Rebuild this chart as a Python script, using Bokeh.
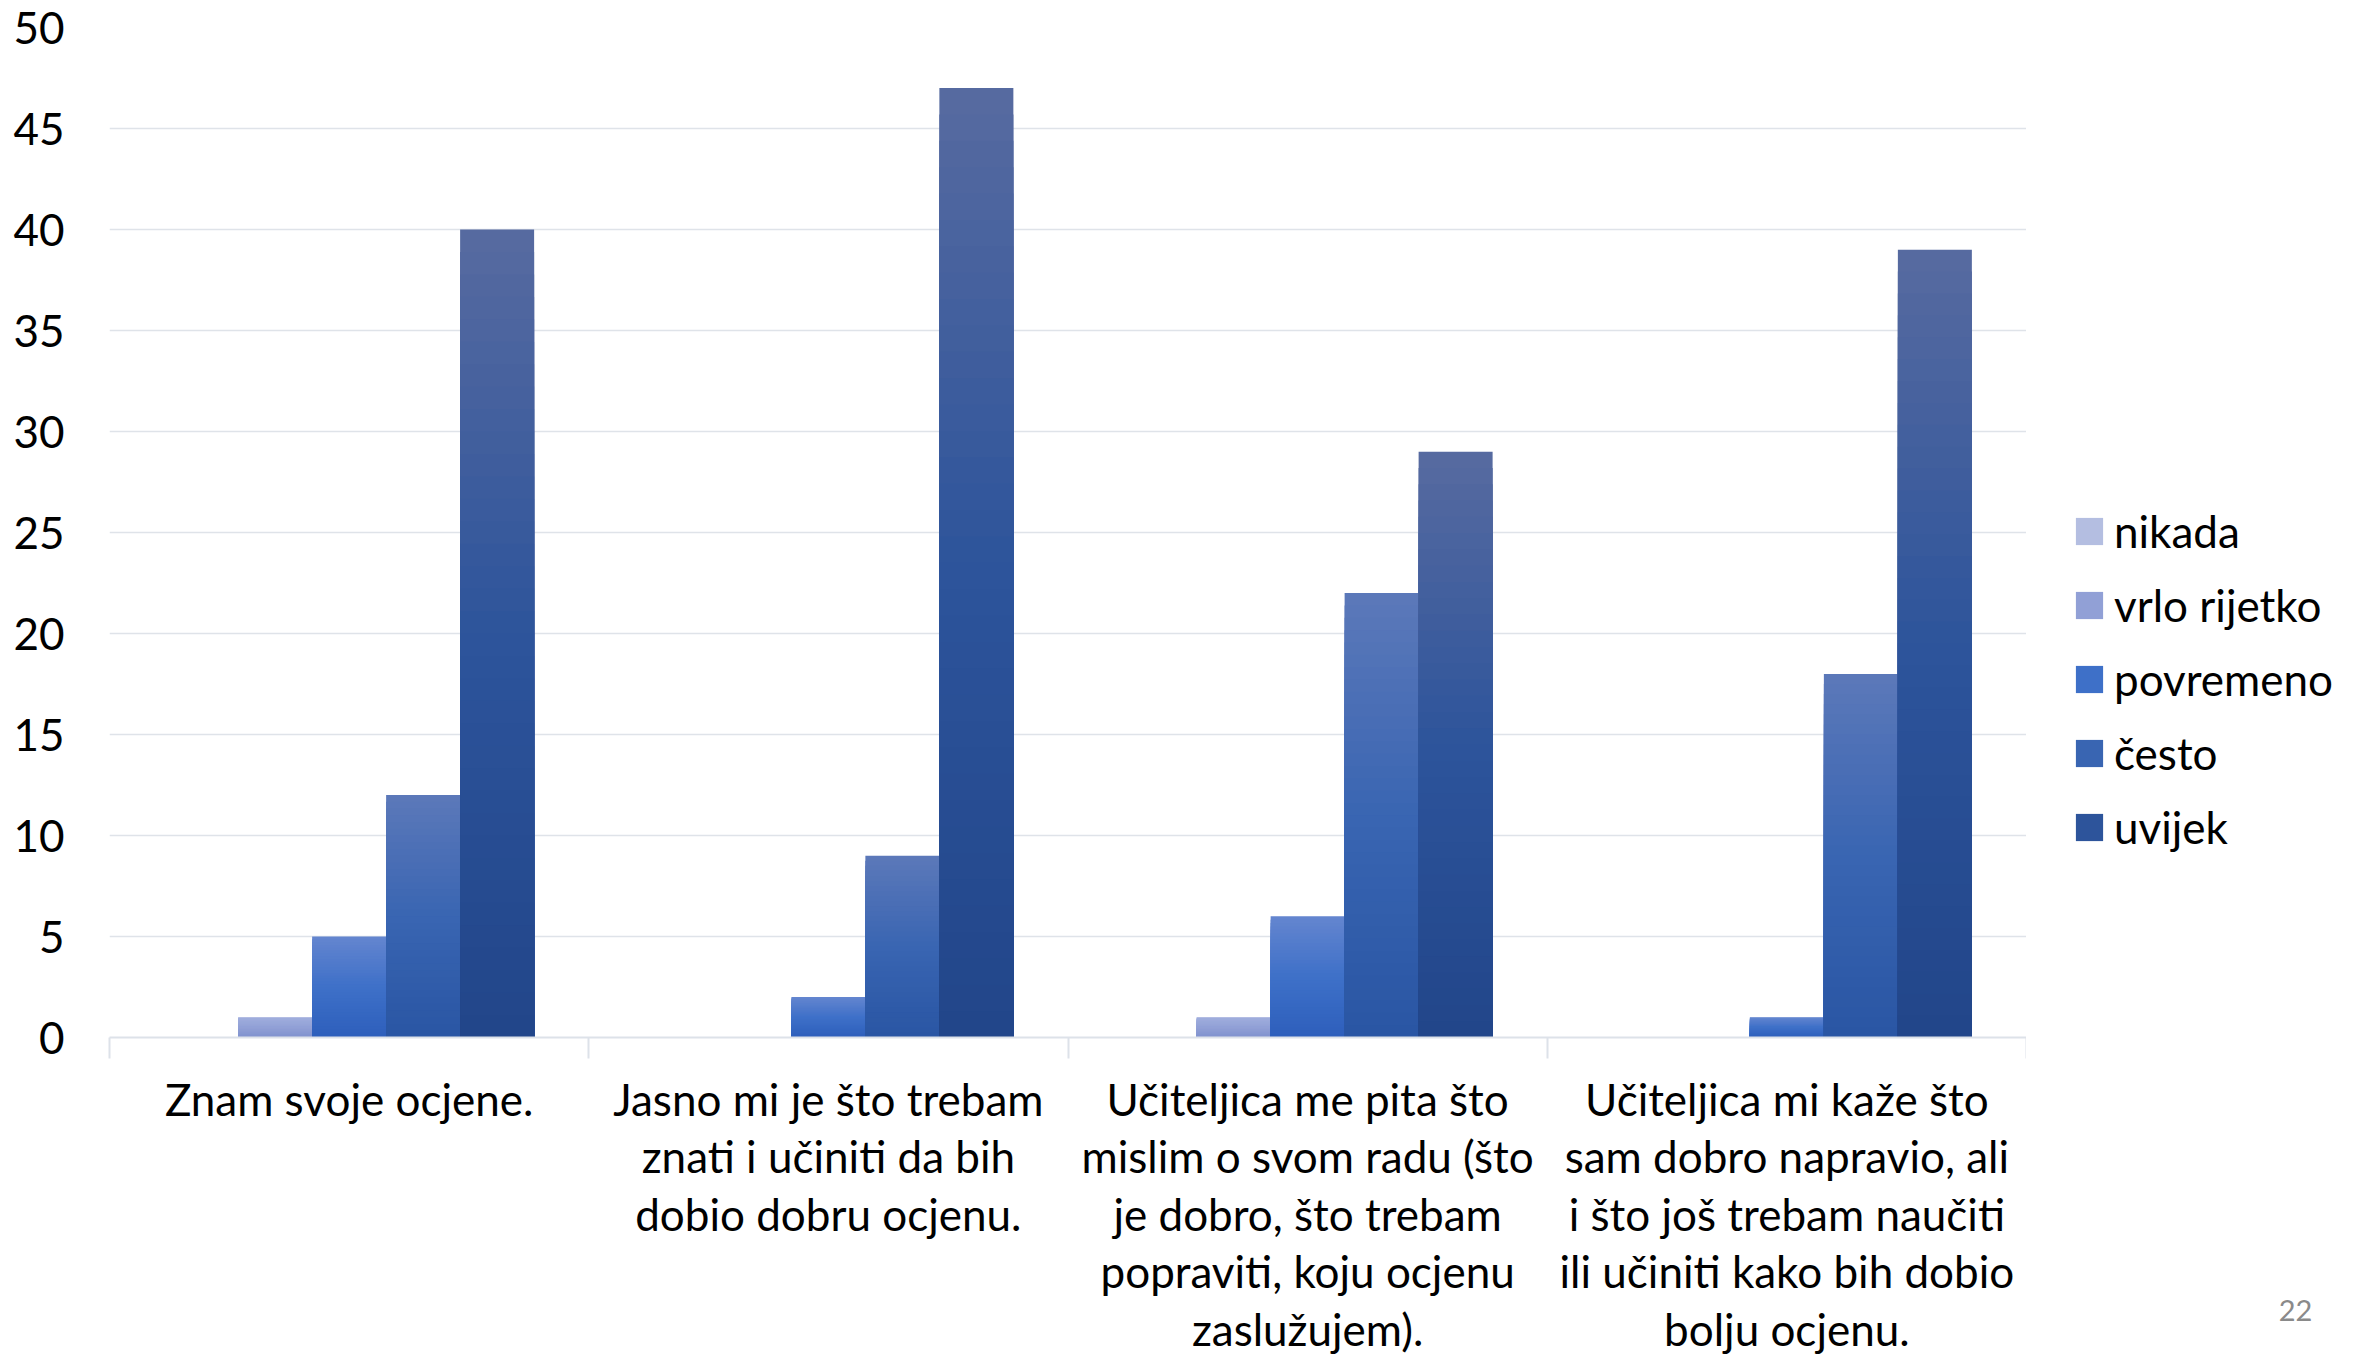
import numpy as np
from bokeh.plotting import figure
from bokeh.layouts import row
from bokeh.models import Range1d, FixedTicker, Legend, LegendItem, ColumnDataSource
from bokeh.embed import file_html
from bokeh.resources import INLINE

# ---------------- data ----------------
categories = [
    "Znam svoje ocjene.",
    "Jasno mi je što trebam\nznati i učiniti da bih\ndobio dobru ocjenu.",
    "Učiteljica me pita što\nmislim o svom radu (što\nje dobro, što trebam\npopraviti, koju ocjenu\nzaslužujem).",
    "Učiteljica mi kaže što\nsam dobro napravio, ali\ni što još trebam naučiti\nili učiniti kako bih dobio\nbolju ocjenu.",
]
series_names = ["nikada", "vrlo rijetko", "povremeno", "često", "uvijek"]
nikada = [0, 0, 0, 0]
vrlo_rijetko = [1, 0, 1, 0]
povremeno = [5, 2, 6, 1]
cesto = [12, 9, 22, 18]
uvijek = [40, 47, 29, 39]
y_ticks = [0, 5, 10, 15, 20, 25, 30, 35, 40, 45, 50]
page_number = "22"

series_values = [nikada, vrlo_rijetko, povremeno, cesto, uvijek]

# gradient stops (top, middle, bottom) per series
gradients = [
    [(198, 206, 233), (180, 190, 225), (158, 168, 214)],
    [(160, 174, 221), (145, 160, 214), (128, 146, 206)],
    [(99, 133, 207), (62, 112, 200), (46, 95, 188)],
    [(91, 120, 185), (57, 101, 178), (42, 86, 164)],
    [(86, 106, 160), (45, 84, 155), (34, 70, 138)],
]

FONT = "Lato"
FS = "44px"
MAIN_W = 2026
TOTAL_W = 2371
H = 1357


def grad_color(stops, f):
    if f <= 0.5:
        a, b, t = stops[0], stops[1], f / 0.5
    else:
        a, b, t = stops[1], stops[2], (f - 0.5) / 0.5
    c = [int(round(a[i] + (b[i] - a[i]) * t)) for i in range(3)]
    return "#%02x%02x%02x" % tuple(c)


p = figure(
    width=MAIN_W, height=H,
    x_range=Range1d(0, len(categories)), y_range=Range1d(0, 50),
    output_backend="svg", toolbar_location=None,
    min_border_left=109, min_border_right=0, min_border_top=27, min_border_bottom=320,
)
p.outline_line_color = None
p.background_fill_color = "white"
p.border_fill_color = "white"

n_series = len(series_names)
bar_w = 0.1544
centers = np.arange(len(categories)) + 0.5
N_LAYERS = 36
for s, (name, vals) in enumerate(zip(series_names, series_values)):
    xs = centers + (s - (n_series - 1) / 2) * bar_w
    vals = np.array(vals, dtype=float)
    for k in range(N_LAYERS):
        frac = k / (N_LAYERS - 1)
        src = ColumnDataSource(dict(x=xs, top=vals * (N_LAYERS - k) / N_LAYERS))
        p.vbar(x="x", top="top", bottom=0, width=bar_w, source=src,
               fill_color=grad_color(gradients[s], frac), line_color=None)

# ---------------- axes ----------------
p.xaxis.ticker = FixedTicker(ticks=list(centers), minor_ticks=list(range(len(categories) + 1)))
p.xaxis.major_label_overrides = {float(c): lab for c, lab in zip(centers, categories)}
p.xaxis.major_tick_line_color = None
p.xaxis.major_tick_out = 0
p.xaxis.major_tick_in = 0
p.xaxis.minor_tick_line_color = "#dde2e9"
p.xaxis.minor_tick_line_width = 2
p.xaxis.minor_tick_out = 21
p.xaxis.minor_tick_in = 0
p.xaxis.axis_line_color = "#dde2e9"
p.xaxis.axis_line_width = 2
p.xaxis.major_label_text_font = FONT
p.xaxis.major_label_text_font_size = FS
p.xaxis.major_label_text_color = "black"
p.xaxis.major_label_text_line_height = 1.107
p.xaxis.major_label_standoff = 14

p.yaxis.ticker = FixedTicker(ticks=y_ticks)
p.yaxis.axis_line_color = None
p.yaxis.major_tick_line_color = None
p.yaxis.minor_tick_line_color = None
p.yaxis.major_tick_out = 0
p.yaxis.major_label_standoff = 45
p.yaxis.major_label_text_font = FONT
p.yaxis.major_label_text_font_size = FS
p.yaxis.major_label_text_color = "black"

p.xgrid.visible = False
p.ygrid.ticker = FixedTicker(ticks=y_ticks)
p.ygrid.grid_line_color = "#dfe3e9"
p.ygrid.grid_line_width = 1.5

# ---------------- side panel: legend + page number ----------------
side = figure(
    width=TOTAL_W - MAIN_W, height=H,
    x_range=Range1d(0, 1), y_range=Range1d(0, 1),
    output_backend="svg", toolbar_location=None,
    min_border=0, min_border_top=27, min_border_bottom=320, y_axis_type=None,
)
side.outline_line_color = None
side.xgrid.visible = False
side.ygrid.visible = False
side.border_fill_color = "white"
side.background_fill_color = "white"

# page number shown as the single tick label of the side panel's (hidden) axis
page_pos = 0.78
side.xaxis.ticker = FixedTicker(ticks=[page_pos])
side.xaxis.major_label_overrides = {page_pos: page_number}
side.xaxis.axis_line_color = None
side.xaxis.major_tick_line_color = None
side.xaxis.minor_tick_line_color = None
side.xaxis.major_tick_out = 0
side.xaxis.major_tick_in = 0
side.xaxis.major_label_standoff = 262
side.xaxis.major_label_text_font = FONT
side.xaxis.major_label_text_font_size = "29px"
side.xaxis.major_label_text_color = "#8a8a8a"

# legend proxies: one off-range point each, so only the legend swatch is seen
proxies = []
for s, name in enumerate(series_names):
    r = side.vbar(x=[5.0], top=[1.0], width=0.1,
                  fill_color=grad_color(gradients[s], 0.5), line_color=None)
    proxies.append(r)

legend = Legend(
    items=[LegendItem(label=n, renderers=[r]) for n, r in zip(series_names, proxies)],
    location=(46, 183),
    orientation="vertical",
    glyph_width=34, glyph_height=34,
    label_standoff=8, spacing=20, padding=0, margin=0,
    label_height=54,
    border_line_color=None, background_fill_alpha=0,
    label_text_font=FONT, label_text_font_size=FS, label_text_color="black",
)
side.add_layout(legend)

layout = row(p, side, spacing=0)
open("out.html", "w").write(file_html(layout, INLINE))
